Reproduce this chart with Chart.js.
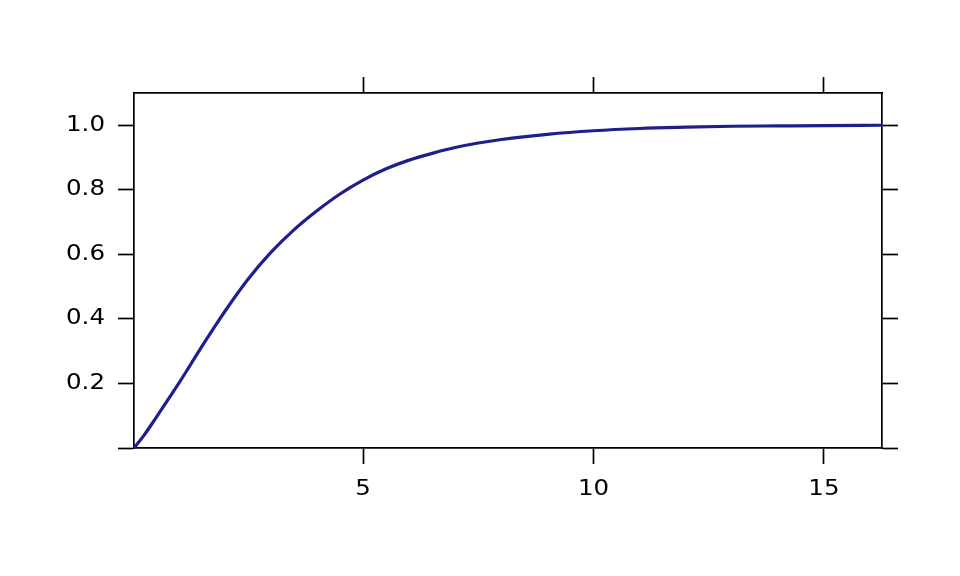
<!DOCTYPE html>
<html>
<head>
<meta charset="utf-8">
<script src="https://cdn.jsdelivr.net/npm/chart.js@4"></script>
<style>
  html, body { margin: 0; padding: 0; background: #fff; }
  #wrap { width: 960px; height: 576px; }
</style>
</head>
<body>
<div id="wrap"><canvas id="cdfChart" width="960" height="576"></canvas></div>
<script>
// values
const xValues = [0.03, 0.25, 0.5, 0.75, 1, 1.25, 1.5, 1.75, 2, 2.5, 3, 3.5, 4, 4.5, 5, 5.5, 6, 6.5, 7, 7.5, 8, 9, 10, 11, 12, 13, 14, 15, 16.26];
const yValues = [0, 0.04, 0.092, 0.146, 0.2, 0.257, 0.314, 0.369, 0.423, 0.522, 0.606, 0.676, 0.735, 0.787, 0.83, 0.865, 0.892, 0.913, 0.931, 0.945, 0.956, 0.972, 0.983, 0.99, 0.994, 0.997, 0.998, 0.999, 1.0];
const xTicks = [5, 10, 15];
const yTicks = [0, 0.2, 0.4, 0.6, 0.8, 1.0];

const font = { family: "'DejaVu Sans', sans-serif", size: 21.5 };
const black = "#000";
const textStretch = 1.14; // tick labels in the picture are a bit wider than DejaVu

const points = xValues.map((x, i) => ({ x: x, y: yValues[i] }));

// widen the tick label glyphs around their anchor point
const stretchText = {
  id: "stretchText",
  beforeDraw(chart) {
    const ctx = chart.ctx;
    if (ctx._stretched) return;
    const fill = ctx.fillText.bind(ctx);
    ctx.fillText = function (text, x, y, maxWidth) {
      ctx.save();
      ctx.translate(x, y);
      ctx.scale(textStretch, 1);
      fill(text, 0, 0, maxWidth);
      ctx.restore();
    };
    ctx._stretched = true;
  },
};

// common bits for all four sides of the box
function side(position, ticks, labelled, size, extra) {
  return Object.assign({
    type: "linear",
    position: position,
    afterBuildTicks: (scale) => {
      scale.ticks = ticks.map((v) => ({ value: v }));
    },
    grid: {
      drawOnChartArea: false,
      drawTicks: true,
      tickLength: 16,
      tickWidth: 1.7,
      tickColor: black,
    },
    border: { display: true, color: black, width: 1.7 },
    ticks: {
      color: black,
      font: font,
      maxRotation: 0,
      autoSkip: false,
      padding: 13,
      callback: labelled,
    },
    afterFit: (scale) => {
      if (position === "top" || position === "bottom") scale.height = size;
      else scale.width = size;
    },
  }, extra);
}

new Chart("cdfChart", {
  type: "line",
  data: {
    datasets: [
      {
        data: points,
        borderColor: "#1e1e8c",
        borderWidth: 3.2,
        pointRadius: 0,
        fill: false,
        cubicInterpolationMode: "monotone",
      },
    ],
  },
  options: {
    responsive: false,
    animation: false,
    layout: { padding: 0 },
    plugins: {
      legend: { display: false },
      tooltip: { enabled: false },
    },
    scales: {
      x: side("bottom", xTicks, (v) => String(v), 128, { min: 0.03, max: 16.26 }),
      xTop: side("top", xTicks, () => "", 93, { min: 0.03, max: 16.26 }),
      y: side("left", yTicks, (v) => (v === 0 ? "" : v.toFixed(1)), 134, { min: 0, max: 1.1 }),
      yRight: side("right", yTicks, () => "", 78, { min: 0, max: 1.1 }),
    },
  },
  plugins: [stretchText],
});
</script>
</body>
</html>
